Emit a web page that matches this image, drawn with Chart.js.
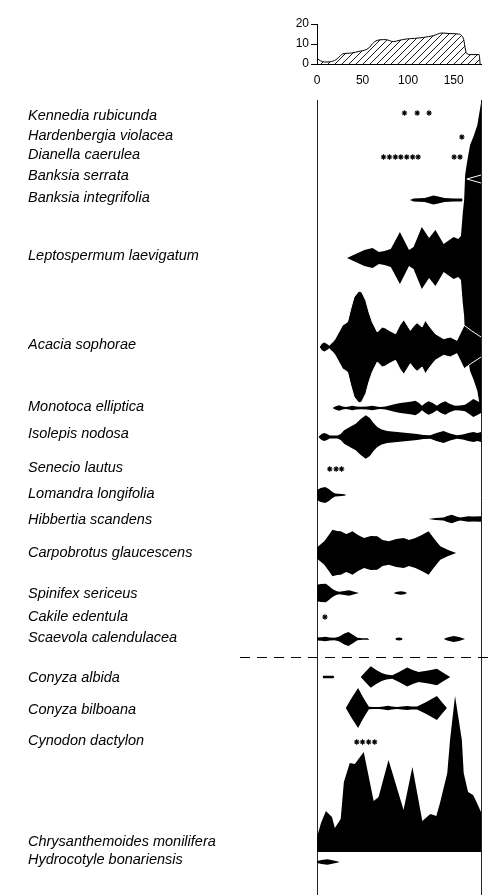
<!DOCTYPE html>
<html>
<head>
<meta charset="utf-8">
<script src="https://cdn.jsdelivr.net/npm/chart.js@4.4.1/dist/chart.umd.min.js"></script>
<style>
html, body { margin: 0; padding: 0; background: #fff; overflow: hidden; }
#wrap { position: relative; width: 492px; height: 895px; }
canvas { position: absolute; left: 0; top: 0; }
</style>
</head>
<body>
<div id="wrap">
<canvas id="transect" width="492" height="895"></canvas>
<canvas id="profile" width="492" height="95"></canvas>
</div>
<script>
// ---- Data -----------------------------------------------------------------

// Dune profile: distance along transect (m) and elevation (m)
const profileDistance = [0, 4, 8, 14, 21, 26, 28, 38, 46, 54, 58, 61, 66, 75, 84, 90, 98, 107, 117, 128, 137, 146, 155, 158, 161, 163, 164, 168, 178, 179];
const profileElevation = [2.8, 1.6, 1.0, 1.1, 2.2, 4.3, 5.0, 5.5, 6.3, 7.2, 8.5, 10.2, 11.8, 12.2, 11.2, 11.8, 12.5, 12.8, 13.3, 14.2, 15.5, 15.2, 15.0, 14.5, 12.2, 7.0, 5.5, 4.7, 4.7, 0];
const distanceTicks = [0, 50, 100, 150];
const elevationTicks = [0, 10, 20];

const species = [
    'Kennedia rubicunda', 'Hardenbergia violacea', 'Dianella caerulea', 'Banksia serrata',
    'Banksia integrifolia', 'Leptospermum laevigatum', 'Acacia sophorae', 'Monotoca elliptica',
    'Isolepis nodosa', 'Senecio lautus', 'Lomandra longifolia', 'Hibbertia scandens',
    'Carpobrotus glaucescens', 'Spinifex sericeus', 'Cakile edentula', 'Scaevola calendulacea',
    'Conyza albida', 'Conyza bilboana', 'Cynodon dactylon', 'Chrysanthemoides monilifera',
    'Hydrocotyle bonariensis'
];

// Kite profiles: [distance (m), abundance]
const banksiaSerrata = [[164.5, 0], [180, 4]];
const banksiaIntegrifolia = [[102, 0], [106, 1.5], [118, 2], [124, 3.5], [128, 4.5], [133, 3.5], [140, 2], [150, 1.5], [159, 1.5], [160, 0]];
const leptospermum = [[33, 0], [40, 3], [52, 8], [61, 10], [68, 6], [74, 7], [81, 9], [91, 26], [101, 8], [106, 11], [115, 31], [123, 20], [130, 28], [139, 14], [150, 21], [155, 19], [158, 22], [160, 45], [161.5, 58], [162.6, 83], [164.7, 96], [168, 113], [172, 122], [176, 133], [180, 155]];
const acacia = [[2.5, 0], [5, 3.5], [8, 5], [11, 3.5], [13.4, 1.7], [16, 4], [19, 6.7], [24, 15], [28, 21.7], [33.5, 25], [37, 38], [40.7, 50], [46, 56], [49, 55], [53.5, 46.7], [57, 35], [60.7, 25], [66.2, 15], [71.7, 20], [75, 19], [78.9, 16.7], [86.2, 13.3], [91, 22], [95.3, 27.3], [102.5, 16.7], [106, 21], [109.8, 24.3], [115.3, 20], [118.9, 26.7], [124, 20], [129.8, 13.3], [138.9, 8.3], [146.2, 10], [153.5, 6.7], [161.5, 21.7], [170, 16], [180, 10]];
const monotoca = [[17, 0], [20, 1.5], [24.4, 2.7], [28, 1.5], [31.6, 1], [35, 1.5], [38.9, 2.3], [43, 1.5], [48, 1.2], [55, 1.5], [60.7, 2.3], [65, 1.5], [69.8, 1], [75, 1.5], [80.7, 2.7], [86, 4], [91.6, 5], [100, 6], [104, 6.5], [108, 7.3], [112, 5], [115.3, 2.3], [119, 5], [122.5, 6.7], [127, 5], [131.6, 2.3], [136, 5], [140.7, 6.7], [146, 4], [151.6, 2.3], [157, 2.5], [162.5, 3.3], [167, 6], [171.6, 9], [176, 7], [180, 5]];
const isolepis = [[1.5, 0], [5, 3], [8, 4], [11, 3], [14, 1.5], [22.5, 1.5], [26, 3], [29.8, 6.7], [36, 10], [42.5, 13.3], [48, 18], [53.5, 21.7], [58, 19], [62, 14], [66.2, 10], [71, 7.5], [77, 6], [88, 5], [99, 4], [110, 3], [117, 2], [124.4, 1.7], [131, 4], [138.9, 6], [146, 3.5], [153.5, 1.7], [160, 2.5], [166, 4], [171.6, 5], [176, 4], [180, 5]];
const lomandra = [[0, 5], [4, 7], [9, 8], [13, 6], [17, 3], [20, 1.5], [24, 1.2], [30, 0.8], [32, 0]];
const hibbertia = [[122.5, 0], [130, 1], [138.9, 1.5], [143, 3], [148, 4.3], [153, 2.5], [157, 1.5], [161, 2], [166, 2.7], [172, 2.5], [180, 2.7]];
const carpobrotus = [[0, 6], [1.5, 6.7], [8, 11.7], [13, 18], [17, 23.3], [22, 22], [26, 21.7], [32, 19], [35, 20], [38.9, 21.7], [45, 18], [51.6, 15], [59, 17], [66.2, 16.7], [72, 13], [78.9, 11.7], [87, 14], [95.3, 15], [101, 13], [108, 15], [115, 18], [122.5, 21.7], [128, 15], [135.3, 6.7], [144, 3], [152.7, 0]];
const spinifex = [[0, 8.3], [4, 9], [9.8, 9.3], [13, 7], [17, 4], [21, 2], [24.4, 1.2], [30, 2], [35.3, 2.7], [40, 1.5], [46, 0], [84, 0], [88, 1.3], [92, 1.8], [96, 1.3], [99, 0]];
const scaevola = [[0, 1.5], [5, 1.8], [9, 2.3], [14, 1.5], [19, 1.2], [23, 2], [26, 3.3], [30, 5.5], [34.5, 7], [39, 4.5], [44.4, 1.2], [50, 0.8], [56, 0.8], [57, 0], [86, 0], [87, 1], [90, 1.5], [93, 1], [94, 0], [139, 0], [143, 1.5], [149.8, 3], [156, 2], [162.5, 0]];
const conyzaAlbida = [[6, 0], [7, 1.2], [18, 1.2], [19, 0], [48, 0], [53, 5], [59, 10.7], [65, 7], [71, 4], [76, 2.5], [82.6, 1.7], [90, 5], [99, 9.5], [105, 7], [111.6, 5], [115, 5.5], [118.9, 6], [125, 7], [131.6, 8.3], [139, 4], [146.2, 0]];
const conyzaBilboana = [[31.6, 0], [38, 10], [45.1, 20], [51, 10], [57, 1.2], [62, 1], [68, 1], [73, 1.5], [77.8, 2.3], [82, 1.5], [88, 1], [93, 1.5], [99, 2], [104, 1.5], [109.8, 1.5], [120, 6], [131.6, 12], [137, 6], [142.6, 0]];
const chrysanthemoides = [[0, 15], [4.4, 29], [9.8, 41], [16.4, 35], [19.6, 24], [26, 33], [29.5, 70], [36, 89], [41.5, 88], [51.3, 100], [62.2, 51], [67.6, 55], [78.5, 92], [95, 42], [104.7, 85], [115.6, 31], [124.4, 38], [131, 36], [135, 49], [143, 79], [146, 112], [151.5, 156], [159, 112], [161, 79], [165.8, 60], [171.3, 57], [175.6, 49], [179, 42], [180, 40]];
const hydrocotyle = [[0, 1], [5, 2], [11.6, 2.7], [17, 1.8], [23, 0.6], [25, 0]];

// Single records (asterisks): distances (m)
const kennediaStars = [96, 110, 123];
const hardenbergiaStars = [159];
const dianellaStars = [73, 79.5, 86, 92, 98.5, 105, 111, 150.5, 157];
const senecioStars = [14, 21, 27];
const cakileStars = [8.7];
const cynodonStars = [43.6, 50, 56.7, 63.3];

const kites = [null, null, null, banksiaSerrata, banksiaIntegrifolia, leptospermum, acacia, monotoca,
    isolepis, null, lomandra, hibbertia, carpobrotus, spinifex, null, scaevola,
    conyzaAlbida, conyzaBilboana, null, chrysanthemoides, hydrocotyle];
const stars = [kennediaStars, hardenbergiaStars, dianellaStars, null, null, null, null, null,
    null, senecioStars, null, null, null, null, cakileStars, null,
    null, null, cynodonStars, null, null];

// ---- Layout ---------------------------------------------------------------
const labelY = [116, 136, 155, 176, 198, 256, 345, 407, 434, 468, 494, 520, 553, 594, 617, 638, 678, 710, 741, 842, 860];
const baseY = [113, 137, 157, 179, 200, 258, 347, 408, 437, 469, 495, 519, 553, 593, 617, 639, 677, 708, 742, 852, 862];
const oneSidedRows = [19];
const outlinedRows = [3, 6];
const underRows = [5];
const dividerY = 657;
const dividerStartX = 240;
const panelLeft = 317;
const labelLeft = 28;

const FONT = '"Liberation Sans", Arial, Helvetica, sans-serif';
Chart.defaults.font.family = FONT;
Chart.defaults.color = '#000';

// keep the axis label overhang from shrinking the plot area
const noPadding = () => ({ left: 0, top: 0, right: 0, bottom: 0 });

// ---- Main transect chart (kite diagram) -----------------------------------
function initTransectChart() {
    const ctx = document.getElementById('transect');

    const datasets = [];

    // asterisks on top
    const starPoints = [];
    stars.forEach((list, i) => {
        if (!list) return;
        list.forEach(d => starPoints.push({ x: d, y: baseY[i] }));
    });
    datasets.push({
        data: starPoints,
        showLine: false,
        pointStyle: 'star',
        pointRadius: 2.7,
        pointBorderWidth: 1.1,
        pointBorderColor: '#000',
        pointBackgroundColor: '#000'
    });

    kites.forEach((kite, i) => {
        if (!kite) return;
        const base = baseY[i];
        const oneSided = oneSidedRows.includes(i);
        const outlined = outlinedRows.includes(i);
        const common = {
            borderColor: outlined ? '#fff' : 'rgba(0,0,0,0)',
            borderWidth: outlined ? 1 : 0,
            pointRadius: 0,
            tension: 0,
            order: underRows.includes(i) ? 1 : 0
        };
        datasets.push(Object.assign({
            label: species[i],
            data: kite.map(([d, w]) => ({ x: d, y: base - w })),
            fill: false
        }, common));
        datasets.push(Object.assign({
            label: species[i],
            data: kite.map(([d, w]) => ({ x: d, y: oneSided ? base : base + w })),
            fill: '-1',
            backgroundColor: '#000'
        }, common));
    });

    const dividerPlugin = {
        id: 'divider',
        afterDatasetsDraw(chart) {
            const c = chart.ctx;
            const y = Math.round(chart.scales.y.getPixelForValue(dividerY)) + 0.5;
            c.save();
            c.setLineDash([10, 7]);
            c.lineWidth = 1.2;
            c.strokeStyle = '#000';
            c.beginPath();
            c.moveTo(dividerStartX, y);
            c.lineTo(chart.width, y);
            c.stroke();
            c.restore();
        }
    };

    new Chart(ctx, {
        type: 'line',
        data: { datasets: datasets },
        plugins: [dividerPlugin],
        options: {
            responsive: false,
            animation: false,
            layout: { autoPadding: false, padding: { left: labelLeft, right: 11, top: 100, bottom: 0 } },
            plugins: {
                legend: { display: false },
                tooltip: { enabled: false }
            },
            scales: {
                x: {
                    type: 'linear',
                    min: 0,
                    max: 180,
                    afterBuildTicks: s => { s.ticks = [{ value: 0 }, { value: 180 }]; },
                    afterFit: s => { s.height = 0; s.getPadding = noPadding; },
                    ticks: { display: false },
                    grid: { color: '#222', lineWidth: 1, drawTicks: false },
                    border: { display: false }
                },
                y: {
                    type: 'linear',
                    reverse: true,
                    min: 100,
                    max: 895,
                    afterBuildTicks: s => { s.ticks = labelY.map(v => ({ value: v })); },
                    afterFit: s => { s.width = panelLeft - labelLeft; s.getPadding = noPadding; },
                    ticks: {
                        autoSkip: false,
                        crossAlign: 'far',
                        font: { family: FONT, size: 14.5, style: 'italic' },
                        color: '#000',
                        callback: (v, i) => species[i]
                    },
                    grid: { display: false, drawTicks: false },
                    border: { display: false }
                }
            }
        }
    });
}

// ---- Dune profile chart -----------------------------------------------------
function initProfileChart() {
    const ctx = document.getElementById('profile');

    const tile = document.createElement('canvas');
    tile.width = 7;
    tile.height = 7;
    const g = tile.getContext('2d');
    g.strokeStyle = '#000';
    g.lineWidth = 0.9;
    g.beginPath();
    g.moveTo(0, 7); g.lineTo(7, 0);
    g.moveTo(-1, 1); g.lineTo(1, -1);
    g.moveTo(6, 8); g.lineTo(8, 6);
    g.stroke();
    const hatch = ctx.getContext('2d').createPattern(tile, 'repeat');

    new Chart(ctx, {
        type: 'line',
        data: {
            datasets: [{
                data: profileDistance.map((d, i) => ({ x: d, y: profileElevation[i] })),
                fill: 'origin',
                backgroundColor: hatch,
                borderColor: '#000',
                borderWidth: 1,
                pointRadius: 0,
                cubicInterpolationMode: 'monotone'
            }]
        },
        options: {
            responsive: false,
            animation: false,
            layout: { autoPadding: false, padding: { left: 0, right: 11, top: 24, bottom: 0 } },
            plugins: {
                legend: { display: false },
                tooltip: { enabled: false }
            },
            scales: {
                x: {
                    type: 'linear',
                    min: 0,
                    max: 180,
                    afterBuildTicks: s => { s.ticks = distanceTicks.map(v => ({ value: v })); },
                    afterFit: s => { s.height = 31; s.getPadding = noPadding; },
                    ticks: { font: { size: 12 }, color: '#000', padding: 9, maxRotation: 0 },
                    grid: { display: false, drawTicks: false },
                    border: { color: '#000', width: 1 }
                },
                y: {
                    min: 0,
                    max: 20,
                    afterBuildTicks: s => { s.ticks = elevationTicks.map(v => ({ value: v })); },
                    afterFit: s => { s.width = panelLeft; s.getPadding = noPadding; },
                    ticks: { font: { size: 12 }, color: '#000', padding: 2 },
                    grid: { drawOnChartArea: false, tickLength: 6, color: '#000' },
                    border: { color: '#000', width: 1 }
                }
            }
        }
    });
}

initTransectChart();
initProfileChart();
</script>
</body>
</html>
